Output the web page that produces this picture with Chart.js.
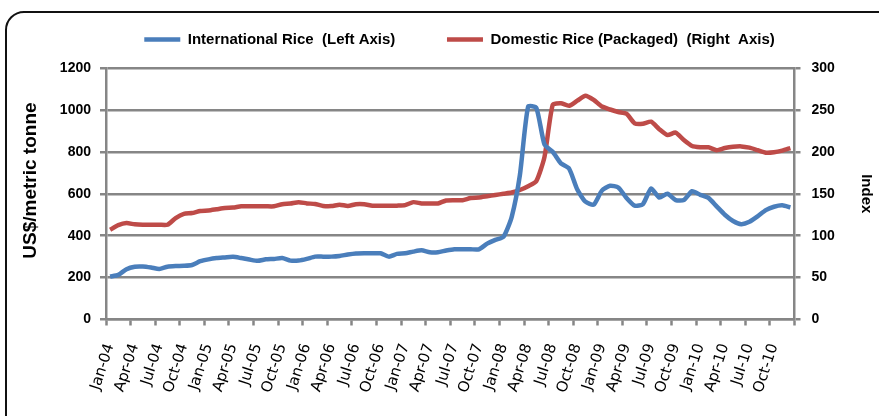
<!DOCTYPE html>
<html>
<head>
<meta charset="utf-8">
<script src="https://cdn.jsdelivr.net/npm/chart.js@4.4.1/dist/chart.umd.min.js"></script>
<style>
html, body { margin: 0; padding: 0; background: #fff; }
</style>
</head>
<body>
<canvas id="riceChart" width="879" height="416"></canvas>
<script>
// monthly series, Jan-04 .. Dec-10
const monthNames = ['Jan','Feb','Mar','Apr','May','Jun','Jul','Aug','Sep','Oct','Nov','Dec'];
const years = ['04','05','06','07','08','09','10'];

// US$/metric tonne (left axis)
const intlRice = [
  205,213,240,252,253,248,241,252,255,256,260,278,
  287,293,296,299,293,286,280,287,289,293,281,281,
  289,300,300,300,303,310,315,316,316,316,300,313,
  316,324,330,321,321,329,335,335,335,335,362,380,
  395,490,690,1015,1010,835,800,745,720,620,562,548,
  615,638,630,580,543,550,625,582,600,570,570,612,
  595,580,540,500,470,455,466,492,522,538,545,535
];
// index (right axis)
const domesticRice = [
  107,112.5,115,113.5,113,113,113,113,121,126,127,129.5,
  130,131.5,133,133.5,135,135,135,135,135,137.5,138.3,140,
  138.5,137.8,135.5,135.3,137,135.4,137.5,137.5,135.8,135.6,135.6,135.8,
  136.4,140,138.5,138.4,138.4,142,142.3,142.3,145,145.5,147,148.5,
  150,151.5,154.5,159,165,194,256,258,255,261,267,262,
  254,250.5,247.5,245.5,234,233.5,236,227,220,223,214,207,
  205.5,205.5,202,204.5,206,206.5,205,202,199,199.5,201.5,204.5
];

const months = years.flatMap(y => monthNames.map(m => m + '-' + y));

const gray = '#868686';
const boldFont = 'Liberation Sans';

const framePlugin = {
  id: 'frame',
  beforeDraw(chart) {
    const ctx = chart.ctx;
    ctx.save();
    ctx.fillStyle = '#fff';
    ctx.fillRect(0, 0, chart.width, chart.height);
    ctx.strokeStyle = '#111';
    ctx.lineWidth = 2;
    ctx.beginPath();
    ctx.roundRect(6, 12, 920, 440, 18);
    ctx.stroke();
    ctx.restore();
  },
  afterLayout(chart) {
    // move the legend up and a bit right of centre, as in the original
    const lg = chart.legend;
    lg.left += 20;
    lg.right += 20;
    lg.top -= 11;
    lg.bottom -= 11;
  }
};

new Chart('riceChart', {
  type: 'line',
  data: {
    labels: months,
    datasets: [
      {
        label: 'International Rice  (Left Axis)' + '          ',
        data: intlRice,
        yAxisID: 'yLeft',
        borderColor: '#4a7ebb',
        backgroundColor: '#4a7ebb',
        borderWidth: 4.5,
        pointRadius: 0,
        tension: 0.2
      },
      {
        label: 'Domestic Rice (Packaged)  (Right  Axis)',
        data: domesticRice,
        yAxisID: 'yRight',
        borderColor: '#be4b48',
        backgroundColor: '#be4b48',
        borderWidth: 4.5,
        pointRadius: 0,
        tension: 0.2
      }
    ]
  },
  options: {
    responsive: false,
    animation: false,
    layout: { padding: { top: 33 } },
    plugins: {
      tooltip: { enabled: false },
      legend: {
        labels: {
          usePointStyle: true,
          pointStyle: 'line',
          pointStyleWidth: 36,
          padding: 10,
          color: '#000',
          font: { family: boldFont, size: 15, weight: 'bold' }
        }
      }
    },
    scales: {
      x: {
        offset: true,
        grid: {
          offset: true,
          drawOnChartArea: false,
          tickLength: 6,
          tickWidth: 2.5,
          tickColor: c => (c.index === undefined || c.index % 3 === 0) ? gray : 'rgba(0,0,0,0)'
        },
        border: { color: gray, width: 2.5 },
        ticks: {
          autoSkip: false,
          minRotation: 72,
          maxRotation: 72,
          padding: 16,
          color: '#000',
          font: { family: 'DejaVu Sans', size: 15 },
          callback: function (v, i) { return i % 3 === 0 ? this.getLabelForValue(v) : ''; }
        },
        afterFit: s => { s.height = 96.5; }
      },
      yLeft: {
        position: 'left',
        min: 0,
        max: 1200,
        grid: { color: gray, lineWidth: 2.5, tickLength: 6 },
        border: { color: gray, width: 2.5 },
        ticks: {
          stepSize: 200,
          padding: 9,
          color: '#000',
          font: { family: boldFont, size: 14, weight: 'bold' },
          callback: v => String(v)
        },
        title: {
          display: true,
          // leading spaces lift the text a little above the axis centre
          text: '     US$/metric tonne',
          color: '#000',
          padding: { top: 19 },
          font: { family: boldFont, size: 19, weight: 'bold' }
        },
        afterFit: s => { s.width = 106; }
      },
      yRight: {
        position: 'right',
        min: 0,
        max: 300,
        grid: { drawOnChartArea: false, color: gray, lineWidth: 2.5, tickLength: 6 },
        border: { color: gray, width: 2.5 },
        ticks: {
          stepSize: 50,
          padding: 11,
          color: '#000',
          font: { family: boldFont, size: 14, weight: 'bold' },
          callback: v => String(v)
        },
        title: {
          display: true,
          text: 'Index',
          color: '#000',
          padding: { top: 4 },
          font: { family: boldFont, size: 15, weight: 'bold' }
        },
        afterFit: s => { s.width = 84.5; }
      }
    }
  },
  plugins: [framePlugin]
});
</script>
</body>
</html>
